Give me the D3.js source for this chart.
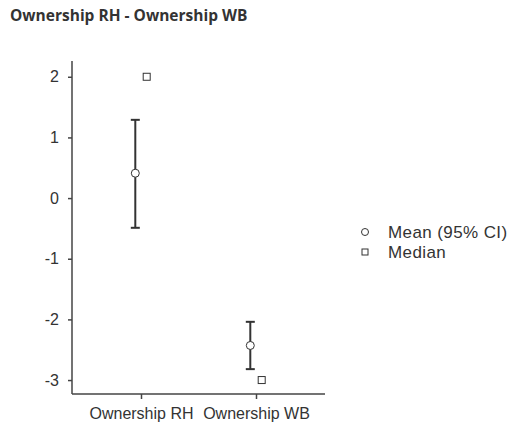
<!DOCTYPE html>
<html><head><meta charset="utf-8">
<script src="https://cdn.jsdelivr.net/npm/d3@7"></script>
<style>body{margin:0;background:#fff}</style>
</head><body>
<script>
const categories = ["Ownership RH", "Ownership WB"];
const means = [0.41, -2.43];
const ciLow = [-0.49, -2.82];
const ciHigh = [1.29, -2.04];
const medians = [2, -3];
const yTicks = [2, 1, 0, -1, -2, -3];
const legendLabels = ["Mean (95% CI)", "Median"];

const W = 521, H = 425;
const svg = d3.select("body").append("svg").attr("width", W).attr("height", H);
const txt = "#333";

svg.append("text").attr("x", 10).attr("y", 21)
  .attr("font-family", "'Open Sans', sans-serif").attr("font-weight", "bold")
  .attr("font-size", 15.5).attr("fill", "#333")
  .text("Ownership RH - Ownership WB");

const y = d3.scaleLinear().domain([-3.23, 2.26]).range([394, 61]);
const x = d3.scalePoint().domain(categories).range([72, 325]).padding(0.6);

const yAxis = svg.append("g").attr("transform", "translate(72,0)")
  .call(d3.axisLeft(y).tickValues(yTicks).tickSize(4).tickSizeOuter(0).tickPadding(9).tickFormat(d => String(d)));
const xAxis = svg.append("g").attr("transform", "translate(0,394)")
  .call(d3.axisBottom(x).tickSize(5).tickSizeOuter(0).tickPadding(9));
[yAxis, xAxis].forEach(g => {
  g.select(".domain").attr("stroke", "#444").attr("stroke-width", 1.5);
  g.selectAll(".tick line").attr("stroke", "#444").attr("stroke-width", 1.5);
  g.selectAll("text").attr("font-family", "'Liberation Sans', Arial, sans-serif").attr("font-size", 16).attr("fill", txt);
});
xAxis.select(".domain").attr("d", "M72,0H325");
yAxis.select(".domain").attr("d", "M0,61V394");

const off = 5.7, cap = 4.5;
categories.forEach((c, i) => {
  const cx = x(c) - off;
  const g = svg.append("g");
  g.append("line").attr("x1", cx).attr("x2", cx).attr("y1", y(ciLow[i])).attr("y2", y(ciHigh[i]))
    .attr("stroke", "#333").attr("stroke-width", 2);
  [ciLow[i], ciHigh[i]].forEach(v => g.append("line").attr("x1", cx - cap).attr("x2", cx + cap)
    .attr("y1", y(v)).attr("y2", y(v)).attr("stroke", "#333").attr("stroke-width", 2));
  g.append("circle").attr("cx", cx).attr("cy", y(means[i])).attr("r", 4)
    .attr("fill", "#fff").attr("stroke", "#333").attr("stroke-width", 1);
  const mx = x(c) + off;
  g.append("rect").attr("x", mx - 3.5).attr("y", y(medians[i]) - 3.5).attr("width", 7).attr("height", 7)
    .attr("fill", "#fff").attr("stroke", "#333").attr("stroke-width", 1);
});

const leg = svg.append("g");
const ly = [232, 252];
legendLabels.forEach((t, i) => {
  if (i === 0) leg.append("circle").attr("cx", 365).attr("cy", ly[i]).attr("r", 3.5).attr("fill", "#fff").attr("stroke", "#333");
  else leg.append("rect").attr("x", 362).attr("y", ly[i] - 3).attr("width", 6).attr("height", 6).attr("fill", "#fff").attr("stroke", "#333");
  leg.append("text").attr("x", 388).attr("y", ly[i] + 5.5)
    .attr("font-family", "'Liberation Sans', Arial, sans-serif").attr("font-size", 17).attr("letter-spacing", 0.4).attr("fill", txt).text(t);
});
</script>
</body></html>
